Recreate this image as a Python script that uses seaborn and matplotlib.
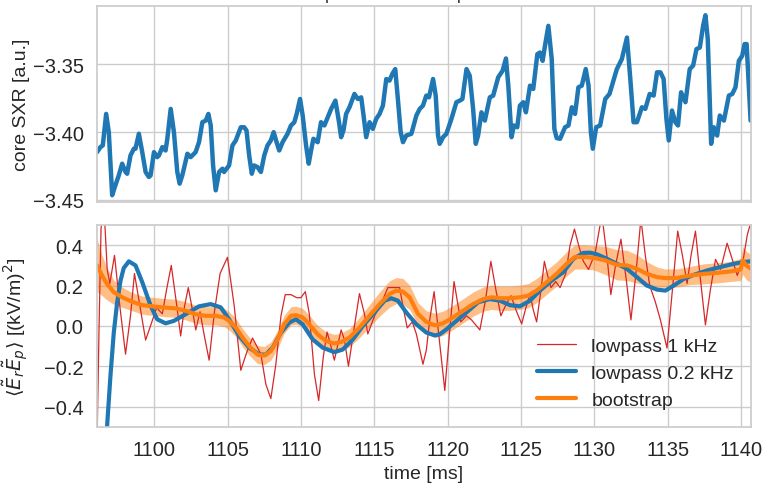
import matplotlib
matplotlib.use("Agg")
import matplotlib.pyplot as plt
import seaborn as sns

# core SXR trace (top panel)
t_sxr = [1096.09, 1096.32, 1096.48, 1096.71, 1096.89, 1097.12, 1097.34, 1097.57, 1097.80, 1098.03,
         1098.14, 1098.37, 1098.60, 1098.71, 1098.94, 1099.17, 1099.40, 1099.62, 1099.74, 1099.97,
         1100.19, 1100.31, 1100.54, 1100.76, 1100.88, 1101.11, 1101.33, 1101.56, 1101.72, 1101.90,
         1102.25, 1102.47, 1102.81, 1103.04, 1103.27, 1103.50, 1103.68, 1103.84, 1104.00, 1104.18,
         1104.41, 1104.64, 1104.75, 1105.09, 1105.32, 1105.55, 1105.89, 1106.12, 1106.28, 1106.46,
         1106.64, 1106.80, 1107.03, 1107.26, 1107.49, 1107.71, 1107.94, 1108.13, 1108.33, 1108.51,
         1108.74, 1109.08, 1109.31, 1109.54, 1109.70, 1109.93, 1110.11, 1110.34, 1110.52, 1110.68,
         1110.84, 1111.13, 1111.36, 1111.59, 1111.82, 1112.05, 1112.34, 1112.57, 1112.73, 1112.89,
         1113.07, 1113.30, 1113.64, 1113.87, 1114.10, 1114.26, 1114.44, 1114.67, 1114.89, 1115.12,
         1115.35, 1115.58, 1115.81, 1116.03, 1116.22, 1116.42, 1116.60, 1116.79, 1116.95, 1117.17,
         1117.52, 1117.86, 1118.09, 1118.31, 1118.54, 1118.72, 1119.00, 1119.18, 1119.34, 1119.45,
         1119.68, 1119.91, 1120.25, 1120.59, 1120.82, 1121.00, 1121.28, 1121.50, 1121.73, 1121.91,
         1122.07, 1122.30, 1122.53, 1122.87, 1123.10, 1123.44, 1123.74, 1123.97, 1124.13, 1124.35,
         1124.51, 1124.74, 1124.92, 1125.15, 1125.33, 1125.61, 1125.83, 1126.11, 1126.29, 1126.47,
         1126.63, 1126.86, 1127.09, 1127.27, 1127.43, 1127.66, 1128.00, 1128.23, 1128.46, 1128.68,
         1128.91, 1129.14, 1129.41, 1129.60, 1129.76, 1129.89, 1130.12, 1130.39, 1130.74, 1131.03,
         1131.30, 1131.53, 1131.87, 1132.03, 1132.22, 1132.44, 1132.67, 1132.90, 1133.24, 1133.47,
         1133.77, 1134.04, 1134.27, 1134.50, 1134.72, 1134.91, 1135.07, 1135.29, 1135.52, 1135.70,
         1135.91, 1136.21, 1136.50, 1136.73, 1136.96, 1137.19, 1137.41, 1137.57, 1137.73, 1137.96,
         1138.14, 1138.37, 1138.55, 1138.83, 1139.17, 1139.40, 1139.62, 1139.85, 1140.08, 1140.24,
         1140.38, 1140.54, 1140.65]
sxr = [-3.4148, -3.4111, -3.4099, -3.3867, -3.4001, -3.4465, -3.4392, -3.4319, -3.4233, -3.4294,
       -3.4307, -3.4172, -3.4123, -3.4123, -3.4013, -3.4148, -3.4294, -3.4331, -3.4319, -3.4148,
       -3.4185, -3.4172, -3.4111, -3.4136, -3.4050, -3.3830, -3.4001, -3.4294, -3.4380, -3.4319,
       -3.4160, -3.4185, -3.4148, -3.4075, -3.3928, -3.3916, -3.3867, -3.3952, -3.4246, -3.4429,
       -3.4294, -3.4270, -3.4294, -3.4246, -3.4099, -3.4062, -3.3965, -3.3965, -3.3989, -3.4172,
       -3.4307, -3.4246, -3.4258, -3.4294, -3.4172, -3.4099, -3.4062, -3.4001, -3.4075, -3.4136,
       -3.4075, -3.4013, -3.3952, -3.3928, -3.3867, -3.3757, -3.3879, -3.4099, -3.4233, -3.4136,
       -3.4050, -3.4075, -3.3928, -3.3952, -3.3891, -3.3830, -3.3769, -3.3916, -3.4038, -3.3989,
       -3.3867, -3.3818, -3.3720, -3.3757, -3.3745, -3.3879, -3.4038, -3.3928, -3.3977, -3.3904,
       -3.3867, -3.3806, -3.3610, -3.3622, -3.3573, -3.3537, -3.3757, -3.4001, -3.4075, -3.4026,
       -3.4013, -3.3879, -3.3830, -3.3806, -3.3732, -3.3745, -3.3610, -3.3732, -3.4026, -3.4087,
       -3.4038, -3.4013, -3.3904, -3.3781, -3.3769, -3.3757, -3.3537, -3.3586, -3.3830, -3.4087,
       -3.4026, -3.3855, -3.3916, -3.3745, -3.3732, -3.3598, -3.3549, -3.3459, -3.3659, -3.4038,
       -3.3952, -3.3965, -3.3806, -3.3781, -3.3855, -3.3659, -3.3683, -3.3427, -3.3415, -3.3476,
       -3.3366, -3.3219, -3.3464, -3.3977, -3.4045, -3.4050, -3.3965, -3.3952, -3.3818, -3.3867,
       -3.3671, -3.3659, -3.3537, -3.3659, -3.4001, -3.4123, -3.3965, -3.3952, -3.3757, -3.3720,
       -3.3622, -3.3537, -3.3464, -3.3390, -3.3305, -3.3598, -3.3928, -3.3928, -3.3818, -3.3830,
       -3.3720, -3.3732, -3.3561, -3.3561, -3.3610, -3.3904, -3.4062, -3.3842, -3.3928, -3.3952,
       -3.3708, -3.3781, -3.3537, -3.3512, -3.3390, -3.3378, -3.3219, -3.3141, -3.3317, -3.4087,
       -3.3965, -3.4026, -3.3879, -3.3916, -3.3732, -3.3720, -3.3671, -3.3476, -3.3439, -3.3353,
       -3.3353, -3.3683, -3.3916]

# <Er Ep>, lowpass 1 kHz
t_fast = [1096.09, 1096.23, 1096.36, 1096.50, 1096.64, 1096.78, 1096.96, 1097.28, 1097.64, 1098.03,
          1098.37, 1098.64, 1099.01, 1099.40, 1099.78, 1100.15, 1100.54, 1100.83, 1101.15, 1101.47,
          1101.79, 1102.06, 1102.31, 1102.59, 1102.82, 1103.11, 1103.38, 1103.73, 1104.11, 1104.48,
          1104.98, 1105.44, 1105.89, 1106.30, 1106.69, 1107.26, 1107.60, 1107.94, 1108.28, 1108.63,
          1108.92, 1109.31, 1109.70, 1109.99, 1110.29, 1110.56, 1110.91, 1111.20, 1111.52, 1111.77,
          1112.00, 1112.27, 1112.73, 1112.96, 1113.23, 1113.60, 1113.98, 1114.32, 1114.55, 1115.01,
          1115.46, 1115.92, 1116.33, 1116.72, 1116.99, 1117.24, 1117.58, 1117.86, 1118.31, 1118.54,
          1118.77, 1119.07, 1119.38, 1119.80, 1120.14, 1120.43, 1120.89, 1121.28, 1121.62, 1122.19,
          1122.58, 1122.94, 1123.28, 1123.62, 1123.97, 1124.31, 1124.70, 1125.04, 1125.33, 1125.61,
          1125.83, 1126.06, 1126.36, 1126.59, 1126.81, 1127.04, 1127.36, 1127.66, 1128.05, 1128.34,
          1128.64, 1128.96, 1129.25, 1129.60, 1130.05, 1130.51, 1130.85, 1131.12, 1131.44, 1131.81,
          1132.17, 1132.49, 1132.83, 1133.17, 1133.47, 1133.77, 1134.15, 1134.50, 1134.95, 1135.32,
          1135.68, 1136.00, 1136.32, 1136.59, 1136.89, 1137.23, 1137.57, 1137.91, 1138.26, 1138.60,
          1139.05, 1139.40, 1139.74, 1140.15, 1140.42, 1140.65]
e_fast = [-0.57, 0.01, 0.48, 0.61, 0.48, 0.28, 0.21, 0.35, 0.10, -0.14,
          0.05, 0.26, 0.10, -0.07, 0.01, 0.09, 0.06, 0.18, 0.30, 0.13,
          -0.05, 0.10, 0.19, 0.08, -0.02, 0.07, -0.04, -0.17, 0.08, 0.26,
          0.34, 0.10, -0.22, -0.13, -0.06, -0.14, -0.29, -0.36, -0.19, 0.05,
          0.155, 0.155, 0.14, 0.14, 0.17, 0.06, -0.24, -0.37, -0.15, -0.03,
          -0.09, -0.17, -0.02, -0.07, -0.20, -0.02, 0.16, 0.06, -0.04, 0.05,
          0.11, 0.19, 0.19, 0.19, 0.08, -0.01, 0.02, -0.04, -0.19, -0.12,
          0.03, 0.17, -0.04, -0.32, -0.02, 0.22, 0.02, 0.05, 0.03, -0.02,
          0.13, 0.32, 0.18, 0.05, 0.105, 0.15, 0.07, 0.01, 0.09, 0.16,
          0.08, 0.02, 0.18, 0.32, 0.25, 0.19, 0.22, 0.19, 0.26, 0.40,
          0.48, 0.39, 0.32, 0.28, 0.36, 0.55, 0.35, 0.155, 0.30, 0.43,
          0.23, 0.03, 0.26, 0.53, 0.35, 0.20, 0.12, 0.03, -0.11, 0.18,
          0.47, 0.35, 0.21, 0.35, 0.47, 0.23, 0.005, 0.18, 0.33, 0.28,
          0.41, 0.33, 0.25, 0.33, 0.45, 0.51]

# <Er Ep>, lowpass 0.2 kHz
t_slow = [1096.07, 1096.43, 1096.77, 1097.00, 1097.23, 1097.46, 1097.69, 1097.91, 1098.26, 1098.71,
          1099.17, 1099.74, 1100.19, 1100.76, 1101.33, 1102.13, 1103.04, 1103.84, 1104.52, 1105.09,
          1105.78, 1106.46, 1107.15, 1107.60, 1108.06, 1108.63, 1109.20, 1109.65, 1110.11, 1110.79,
          1111.48, 1112.27, 1112.84, 1113.53, 1114.21, 1115.01, 1115.69, 1116.15, 1116.60, 1117.17,
          1117.86, 1118.54, 1119.11, 1119.45, 1119.91, 1120.59, 1121.28, 1122.07, 1122.87, 1123.56,
          1124.24, 1124.92, 1125.61, 1126.29, 1127.09, 1127.89, 1128.57, 1129.25, 1129.71, 1130.17,
          1130.85, 1131.53, 1132.22, 1132.90, 1133.58, 1134.27, 1134.84, 1135.41, 1136.09, 1136.77,
          1137.69, 1138.60, 1139.51, 1140.19, 1140.65]
e_slow = [-1.6, -0.967, -0.50, -0.25, -0.033, 0.117, 0.225, 0.287, 0.32, 0.30,
          0.217, 0.10, 0.033, 0.013, 0.025, 0.058, 0.097, 0.108, 0.092, 0.033,
          -0.05, -0.108, -0.142, -0.142, -0.108, -0.033, 0.017, 0.033, 0.008, -0.067,
          -0.108, -0.13, -0.117, -0.067, 0.0, 0.067, 0.125, 0.137, 0.125, 0.067,
          0.008, -0.033, -0.047, -0.042, -0.017, 0.025, 0.067, 0.117, 0.133, 0.125,
          0.103, 0.097, 0.125, 0.175, 0.225, 0.267, 0.333, 0.362, 0.363, 0.355,
          0.333, 0.308, 0.283, 0.242, 0.20, 0.18, 0.175, 0.20, 0.233, 0.253,
          0.275, 0.292, 0.308, 0.317, 0.32]

# bootstrap mean and half width of the band
t_boot = [1096.09, 1096.43, 1096.77, 1097.23, 1097.80, 1098.48, 1099.17, 1099.85, 1100.54, 1101.45,
          1102.13, 1102.81, 1103.50, 1104.18, 1104.75, 1105.09, 1105.55, 1106.01, 1106.46, 1107.03,
          1107.49, 1107.94, 1108.40, 1108.85, 1109.31, 1109.65, 1110.11, 1110.56, 1111.13, 1111.70,
          1112.27, 1112.73, 1113.30, 1113.98, 1114.67, 1115.35, 1116.03, 1116.49, 1116.95, 1117.40,
          1117.97, 1118.54, 1119.11, 1119.68, 1120.36, 1121.05, 1121.73, 1122.42, 1122.99, 1123.56,
          1124.24, 1124.92, 1125.49, 1126.06, 1126.75, 1127.43, 1128.11, 1128.68, 1129.25, 1129.94,
          1130.73, 1131.53, 1132.22, 1132.90, 1133.58, 1134.27, 1134.84, 1135.64, 1136.55, 1137.46,
          1138.37, 1139.28, 1139.97, 1140.12, 1140.35, 1140.65]
e_boot = [0.30, 0.25, 0.208, 0.167, 0.142, 0.12, 0.103, 0.097, 0.092, 0.087,
          0.075, 0.058, 0.05, 0.05, 0.042, 0.025, -0.008, -0.058, -0.10, -0.142,
          -0.147, -0.125, -0.067, 0.008, 0.05, 0.053, 0.042, 0.008, -0.042, -0.075,
          -0.087, -0.08, -0.058, -0.008, 0.05, 0.108, 0.158, 0.175, 0.17, 0.142,
          0.06, 0.02, 0.003, 0.013, 0.042, 0.075, 0.108, 0.133, 0.142, 0.137,
          0.137, 0.142, 0.15, 0.175, 0.217, 0.258, 0.308, 0.342, 0.342, 0.338,
          0.325, 0.303, 0.30, 0.283, 0.258, 0.242, 0.237, 0.238, 0.25, 0.258,
          0.263, 0.27, 0.28, 0.325, 0.30, 0.285]
boot_err = [0.13, 0.10, 0.08, 0.06, 0.05, 0.045, 0.045, 0.045, 0.045, 0.045,
            0.045, 0.045, 0.045, 0.045, 0.045, 0.045, 0.045, 0.045, 0.045, 0.045,
            0.045, 0.045, 0.045, 0.045, 0.045, 0.045, 0.045, 0.045, 0.045, 0.045,
            0.045, 0.045, 0.045, 0.05, 0.055, 0.06, 0.065, 0.065, 0.065, 0.06,
            0.055, 0.055, 0.06, 0.06, 0.06, 0.06, 0.06, 0.06, 0.06, 0.06,
            0.06, 0.06, 0.06, 0.06, 0.06, 0.06, 0.06, 0.06, 0.06, 0.06,
            0.07, 0.075, 0.075, 0.07, 0.06, 0.05, 0.045, 0.045, 0.045, 0.05,
            0.05, 0.05, 0.055, 0.07, 0.07, 0.07]

sns.set_theme(style="whitegrid")
plt.rcParams["font.family"] = ["Liberation Sans", "DejaVu Sans"]
plt.rcParams["font.size"] = 14
plt.rcParams["axes.labelsize"] = 14
plt.rcParams["xtick.labelsize"] = 14.5
plt.rcParams["ytick.labelsize"] = 14.5
plt.rcParams["legend.fontsize"] = 14

fig, (ax1, ax2) = plt.subplots(2, 1, sharex=True, figsize=(7.62, 4.85), dpi=100,
                               gridspec_kw={"height_ratios": [196, 202]})
fig.subplots_adjust(left=0.127, right=0.986, top=0.985, bottom=0.118, hspace=0.116)

sns.lineplot(x=t_sxr, y=sxr, ax=ax1, color="#1f77b4", lw=3.2)
ax1.set_ylabel("core SXR [a.u.]", labelpad=2)
ax1.set_ylim(-3.4515, -3.3075)
ax1.set_yticks([-3.45, -3.40, -3.35])
ax1.set_title("lowpass vs. bootstrap", x=0.437, pad=5, fontsize=12.5)

sns.lineplot(x=t_fast, y=e_fast, ax=ax2, color="#d62728", lw=0.9, label="lowpass 1 kHz")
sns.lineplot(x=t_slow, y=e_slow, ax=ax2, color="#1f77b4", lw=3, label="lowpass 0.2 kHz")
lo = [m - e for m, e in zip(e_boot, boot_err)]
hi = [m + e for m, e in zip(e_boot, boot_err)]
ax2.fill_between(t_boot, lo, hi, color="#ff7f0e", alpha=0.5, lw=0)
sns.lineplot(x=t_boot, y=e_boot, ax=ax2, color="#ff7f0e", lw=3, label="bootstrap")
ax2.set_ylim(-0.5, 0.5)
ax2.set_yticks([-0.4, -0.2, 0.0, 0.2, 0.4])
ax2.set_xlim(1096.07, 1140.7)
ax2.set_xticks(range(1100, 1141, 5))
ax2.set_xlabel("time [ms]")
ax2.set_ylabel(r"$\langle\tilde{E}_r\tilde{E}_p\rangle$ [(kV/m)$^2$]", labelpad=2)
ax2.legend(loc="lower right", frameon=False)

fig.align_ylabels([ax1, ax2])
fig.savefig("out.png", dpi=100)
